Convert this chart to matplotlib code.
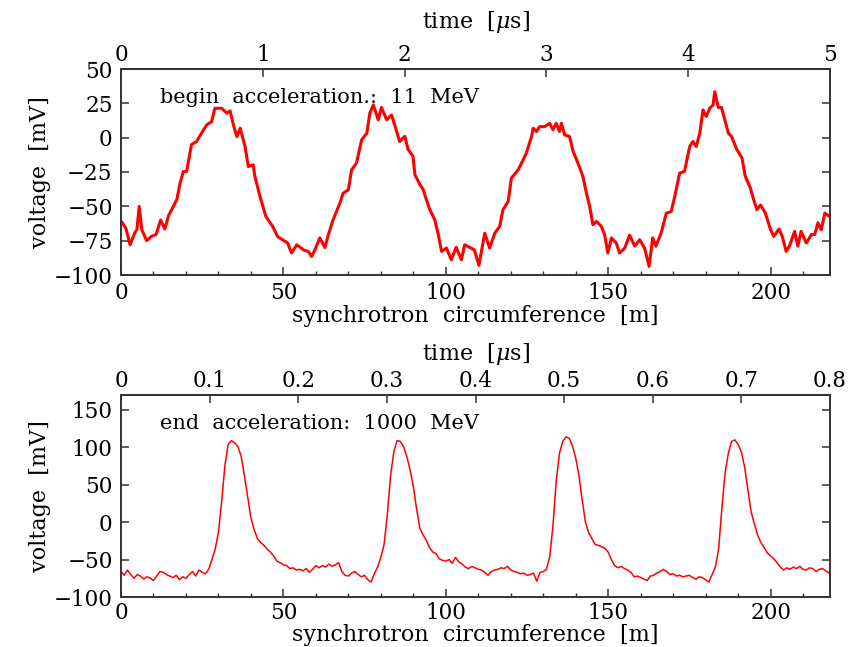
import matplotlib
matplotlib.use("Agg")
import matplotlib.pyplot as plt
import numpy as np

# ---------------- data ----------------
top_x = [0.4, 1.5, 2.8, 4.3, 4.9, 5.6, 6.4, 7.9, 9.3, 10.8, 12.2, 13.5, 14.6, 16.1, 17.2, 18.2,
         19.2, 20.2, 21.7, 23.2, 24.8, 26.4, 27.9, 28.9, 31.0, 32.6, 33.6, 34.6, 35.7, 36.7,
         38.2, 39.2, 40.7, 41.2, 42.8, 44.6, 46.7, 48.2, 49.7, 51.3, 52.5, 54.1, 56.2, 57.7,
         58.7, 59.7, 61.2, 62.8, 63.8, 65.3, 67.4, 68.4, 70.0, 71.0, 72.5, 74.1, 75.7, 76.6,
         77.7, 79.2, 80.2, 81.8, 83.3, 84.3, 85.8, 87.4, 88.4, 89.9, 90.5, 92.0, 93.0, 94.0,
         95.1, 96.6, 97.6, 98.7, 100.2, 101.7, 103.2, 104.8, 105.8, 107.3, 108.8, 110.2, 112.0,
         113.5, 115.1, 116.6, 117.6, 119.2, 120.2, 122.3, 123.3, 124.8, 126.4, 126.9, 127.9,
         128.9, 130.4, 132.0, 133.0, 134.0, 135.0, 135.6, 136.6, 138.1, 139.2, 140.7, 142.2,
         143.3, 144.3, 145.3, 146.4, 147.9, 148.9, 149.9, 151.0, 152.5, 153.5, 155.1, 156.6,
         158.2, 159.7, 161.2, 162.6, 163.7, 164.7, 166.3, 167.9, 169.4, 170.5, 172.0, 173.5,
         175.1, 176.1, 177.1, 178.2, 179.2, 180.2, 181.3, 182.3, 182.8, 183.9, 184.9, 185.9,
         187.0, 188.0, 189.6, 191.2, 192.2, 193.8, 194.8, 195.8, 196.9, 198.4, 200.0, 201.0,
         202.6, 203.6, 204.8, 205.8, 207.4, 208.4, 209.4, 211.0, 212.6, 213.6, 214.6, 215.6,
         216.7, 218.2]
top_v = [-62, -66, -78, -69, -67, -50, -67, -75, -72, -70.5, -60, -66.5, -57, -50, -45, -33,
         -24.6, -24.6, -5, -3, 3.3, 9.3, 11.7, 21.4, 21.4, 17.8, 19.5, 9.3, 0.8, 6.9,
         -6.5, -21, -19.8, -28, -42.8, -57.4, -64.6, -72, -74.3, -76.7, -84, -78, -81.7, -83,
         -86.5, -81.7, -73, -80, -71, -59.8, -47.6, -40.4, -38, -23.4, -18.6, -1.6, 3.3, 17.8,
         23.8, 13, 22, 13, 16.5, 9, -2.8, 1, -8.6, -13.5, -27, -34, -37.5, -45,
         -52.5, -59.8, -69.5, -82.8, -80.4, -88.9, -79.8, -88.9, -78, -79.8, -81.7, -93, -69.5,
         -80.4, -69.5, -64.6, -52.5, -46.5, -29.5, -23.4, -18.6, -11.3, 0.8, 6.9, 4.5,
         8, 8, 10.5, 5.7, 10.5, 4.5, 10.5, 2, 0.8, -10, -18.6, -28,
         -40.4, -50, -63.4, -61, -64.6, -70.5, -84, -73, -76.7, -84, -80.4, -71,
         -79, -74.3, -80.4, -93.7, -73, -79, -69.5, -55, -53.8, -42.8, -25.8, -24.6,
         -6.5, -2.8, -6.5, 3.3, 20.2, 15.4, 21.5, 23.8, 33.5, 22, 22, 13,
         3.3, 0.8, -8.6, -14.7, -28, -36.8, -45.2, -52.5, -49, -55, -67, -71.9,
         -66.5, -71.9, -82.8, -79, -68.2, -79, -68.2, -76.7, -70.5, -70.5, -62, -67,
         -55, -57.4]

bot_x = list(range(0, 219))
bot_v = [-66, -71, -64, -70, -75, -70, -72, -76, -73, -75, -78, -72, -66, -67, -70, -72, -74, -71, -77, -73,
         -75, -70, -66, -72, -64, -67, -69, -63, -50, -36, -14, 28, 76, 104, 109, 106, 101, 88, 62, 34,
         6, -10, -22, -27, -31, -36, -40, -45, -52, -54, -57, -58, -62, -61, -64, -63, -65, -62, -67, -63,
         -58, -61, -58, -60, -56, -59, -57, -54, -66, -71, -72, -68, -66, -70, -73, -71, -77, -80, -69, -60,
         -47, -30, 10, 62, 94, 109, 108, 101, 88, 70, 48, 18, -8, -17, -24, -34, -40, -42, -49, -51,
         -52, -50, -55, -47, -53, -56, -60, -62, -59, -61, -63, -64, -67, -71, -66, -64, -63, -61, -62, -59,
         -64, -66, -67, -69, -68, -71, -70, -68, -79, -67, -66, -63, -46, -5, 55, 92, 108, 114, 112, 102,
         86, 62, 30, 0, -14, -22, -30, -31, -33, -35, -40, -50, -58, -61, -59, -62, -64, -67, -73, -72,
         -74, -76, -78, -72, -71, -68, -66, -63, -66, -70, -69, -72, -71, -73, -72, -71, -74, -76, -73, -74,
         -77, -80, -70, -60, -36, 18, 66, 92, 108, 110, 104, 94, 74, 44, 14, -2, -17, -27, -34, -41,
         -45, -49, -54, -60, -64, -61, -63, -60, -62, -59, -63, -64, -61, -62, -66, -63, -62, -65, -68]

top_xticks = [0, 50, 100, 150, 200]
top_yticks = [-100, -75, -50, -25, 0, 25, 50]
top_time_ticks = [0, 1, 2, 3, 4, 5]
bot_xticks = [0, 50, 100, 150, 200]
bot_yticks = [-100, -50, 0, 50, 100, 150]
bot_time_ticks = [0, 0.1, 0.2, 0.3, 0.4, 0.5, 0.6, 0.7, 0.8]
top_label = "begin  acceleration.:  11  MeV"
bot_label = "end  acceleration:  1000  MeV"

XMAX = 218.3
M_PER_US_TOP = XMAX / 5.0
M_PER_US_BOT = XMAX / 0.8

# ---------------- style ----------------
plt.rcParams['font.family'] = ['DejaVu Serif']
plt.rcParams['mathtext.fontset'] = 'dejavuserif'
FS_TICK = 15.5
FS_LAB = 16
FS_TXT = 15
SPINE = '#333333'

fig = plt.figure(figsize=(8.56, 6.47), dpi=100)
ax1 = fig.add_axes([121/856, 1-275/647, (830-121)/856, (275-69)/647])
ax2 = fig.add_axes([121/856, 1-597/647, (830-121)/856, (597-395)/647])


def style(ax, xticks, yticks, ylim, tscale, tticks, tfmt, time_pad, xlab_pad, xtick_pad):
    ax.set_xlim(0, XMAX)
    ax.set_ylim(*ylim)
    ax.set_xticks(xticks)
    ax.set_xticks(np.arange(0, 220, 10), minor=True)
    ax.set_yticks(yticks)
    ax.tick_params(axis='both', which='major', direction='in', length=6, width=1.1,
                   labelsize=FS_TICK, color=SPINE)
    ax.tick_params(axis='x', which='major', pad=xtick_pad)
    ax.tick_params(axis='y', which='major', pad=6)
    ax.tick_params(axis='x', which='minor', direction='in', length=3, width=1.0, color=SPINE)
    ax.tick_params(axis='y', which='both', right=True)
    ax.tick_params(axis='y', which='major', labelright=False)
    for s in ax.spines.values():
        s.set_color(SPINE)
        s.set_linewidth(1.4)
    sec = ax.secondary_xaxis('top', functions=(lambda x: x / tscale, lambda t: t * tscale))
    sec.set_xticks(tticks)
    sec.set_xticklabels([tfmt(t) for t in tticks])
    sec.tick_params(direction='in', length=6, width=1.1, labelsize=FS_TICK, color=SPINE, pad=2)
    sec.spines['top'].set_color(SPINE)
    sec.spines['top'].set_linewidth(1.4)
    sec.set_xlabel(r'time  [$\mu$s]', fontsize=FS_LAB, labelpad=time_pad)
    ax.set_xlabel('synchrotron  circumference  [m]', fontsize=FS_LAB, labelpad=xlab_pad)
    ax.set_ylabel('voltage  [mV]', fontsize=FS_LAB, labelpad=2)
    return sec


ax1.plot(top_x, top_v, color='#ff0000', lw=2.2, solid_joinstyle='round')
style(ax1, top_xticks, top_yticks, (-100, 50), M_PER_US_TOP, top_time_ticks,
      lambda t: f"{t:g}", 12, 1, 5)
ax1.text(12, 29, top_label, fontsize=FS_TXT, va='center', ha='left')

ax2.plot(bot_x, bot_v, color='#ff0000', lw=1.1)
style(ax2, bot_xticks, bot_yticks, (-100, 170), M_PER_US_BOT, bot_time_ticks,
      lambda t: f"{t:g}", 7, 0, 3.5)
ax2.text(12, 132, bot_label, fontsize=FS_TXT, va='center', ha='left')

fig.savefig('out.png', dpi=100)
